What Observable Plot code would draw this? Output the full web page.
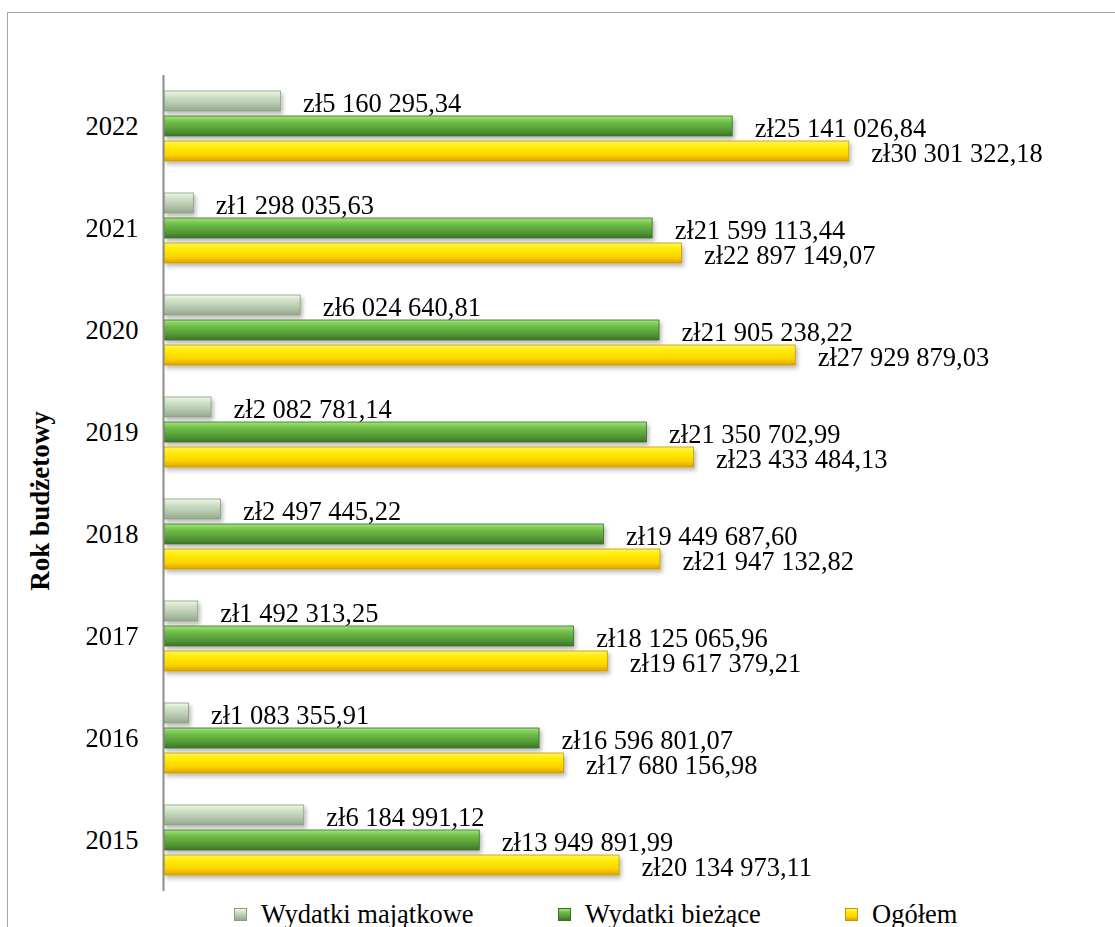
<!DOCTYPE html>
<html>
<head>
<meta charset="utf-8">
<script src="https://cdn.jsdelivr.net/npm/d3@7"></script>
<script src="https://cdn.jsdelivr.net/npm/@observablehq/plot@0.6"></script>
<style>
  html, body { margin: 0; padding: 0; background: #fff; width: 1115px; height: 927px; overflow: hidden; }
  #wrap { position: relative; width: 1115px; height: 927px; font-family: "Liberation Serif", "Times New Roman", serif; }
  #frame { position: absolute; left: 7px; top: 12px; width: 1120px; height: 930px; border: 1px solid #a6a6a6; box-sizing: border-box; }
  #chart { position: absolute; left: 0; top: 0; }
  #ytitle { position: absolute; left: 40px; top: 501px; transform: translate(-50%, -50%) rotate(-90deg); font-weight: bold; font-size: 27px; white-space: nowrap; color: #000; }
  .leg { position: absolute; top: 899px; height: 30px; display: flex; align-items: center; font-size: 26.5px; color: #000; white-space: nowrap; }
  .leg .sw { width: 13px; height: 13px; margin-right: 14px; box-sizing: border-box; }
</style>
</head>
<body>
<div id="wrap">
  <div id="frame"></div>
  <div id="chart"></div>
  <div id="ytitle">Rok budżetowy</div>
  <div id="legend"></div>
</div>
<script>
// ---- data ----
const years = ["2022", "2021", "2020", "2019", "2018", "2017", "2016", "2015"];
const seriesNames = ["Wydatki majątkowe", "Wydatki bieżące", "Ogółem"];
const majatkowe = [5160295.34, 1298035.63, 6024640.81, 2082781.14, 2497445.22, 1492313.25, 1083355.91, 6184991.12];
const biezace   = [25141026.84, 21599113.44, 21905238.22, 21350702.99, 19449687.60, 18125065.96, 16596801.07, 13949891.99];
const ogolem    = [30301322.18, 22897149.07, 27929879.03, 23433484.13, 21947132.82, 19617379.21, 17680156.98, 20134973.11];

const seriesValues = [majatkowe, biezace, ogolem];
const rows = [];
years.forEach((y, i) => {
  seriesNames.forEach((s, j) => rows.push({year: y, series: s, value: seriesValues[j][i]}));
});

function fmt(v) {
  const [ip, dp] = v.toFixed(2).split(".");
  return "zł" + ip.replace(/\B(?=(\d{3})+(?!\d))/g, " ") + "," + dp;
}

const gradIds = ["gMaj", "gBiez", "gOg"];
const strokes = ["#8a9c82", "#3b6e26", "#c89600"];

const bars = seriesNames.map((s, j) =>
  Plot.barX(rows.filter(d => d.series === s), {
    fy: "year", y: "series", x: "value",
    fill: `url(#${gradIds[j]})`,
    stroke: strokes[j],
    strokeWidth: 0.8
  })
);

const plot = Plot.plot({
  width: 1115,
  height: 893,
  marginTop: 74,
  marginBottom: 2,
  marginLeft: 164,
  marginRight: 160,
  style: {fontFamily: "'Liberation Serif', 'Times New Roman', serif", fontSize: "26.5px", background: "transparent", color: "#000"},
  x: {domain: [0, 35e6], axis: null},
  y: {domain: seriesNames, paddingInner: 0.22, paddingOuter: 0.585, axis: null},
  fy: {domain: years, padding: 0, label: null},
  marks: [
    ...bars,
    Plot.ruleX([0], {stroke: "#8c8c8c", strokeWidth: 2, dx: -1}),
    Plot.text(rows, {
      fy: "year", y: "series", x: "value",
      text: d => fmt(d.value),
      textAnchor: "start", dx: 22, dy: 2, fill: "#000"
    }),
    Plot.axisFy({anchor: "left", tickSize: 0, tickPadding: 26, label: null})
  ]
});

document.getElementById("chart").appendChild(plot);

// gradients and shadow
const svg = d3.select(plot);
const defs = svg.insert("defs", ":first-child");
const gradStops = [
  [["0%", "#eef8e8"], ["25%", "#d2e2ca"], ["65%", "#b4c6ab"], ["100%", "#93a88a"]],
  [["0%", "#a2e47a"], ["30%", "#6fbe48"], ["70%", "#559a35"], ["100%", "#3e7428"]],
  [["0%", "#fff55a"], ["30%", "#ffec00"], ["70%", "#fcd200"], ["100%", "#dca400"]]
];
gradIds.forEach((id, j) => {
  const g = defs.append("linearGradient").attr("id", id).attr("x1", 0).attr("y1", 0).attr("x2", 0).attr("y2", 1);
  gradStops[j].forEach(([o, c]) => g.append("stop").attr("offset", o).attr("stop-color", c));
});
const f = defs.append("filter").attr("id", "shadow").attr("x", "-5%").attr("y", "-30%").attr("width", "115%").attr("height", "190%");
f.append("feDropShadow").attr("dx", 2).attr("dy", 3).attr("stdDeviation", 2).attr("flood-color", "#000").attr("flood-opacity", 0.28);
svg.selectAll("g[aria-label='bar']").attr("filter", "url(#shadow)");

// legend
const legPos = [234, 558, 845];
const legend = document.getElementById("legend");
seriesNames.forEach((s, j) => {
  const item = document.createElement("div");
  item.className = "leg";
  item.style.left = legPos[j] + "px";
  const sw = document.createElement("div");
  sw.className = "sw";
  const st = gradStops[j];
  sw.style.background = `linear-gradient(to bottom, ${st.map(([o, c]) => c + " " + o).join(", ")})`;
  sw.style.border = "1px solid " + strokes[j];
  const tx = document.createElement("span");
  tx.textContent = s;
  item.appendChild(sw);
  item.appendChild(tx);
  legend.appendChild(item);
});
</script>
</body>
</html>
